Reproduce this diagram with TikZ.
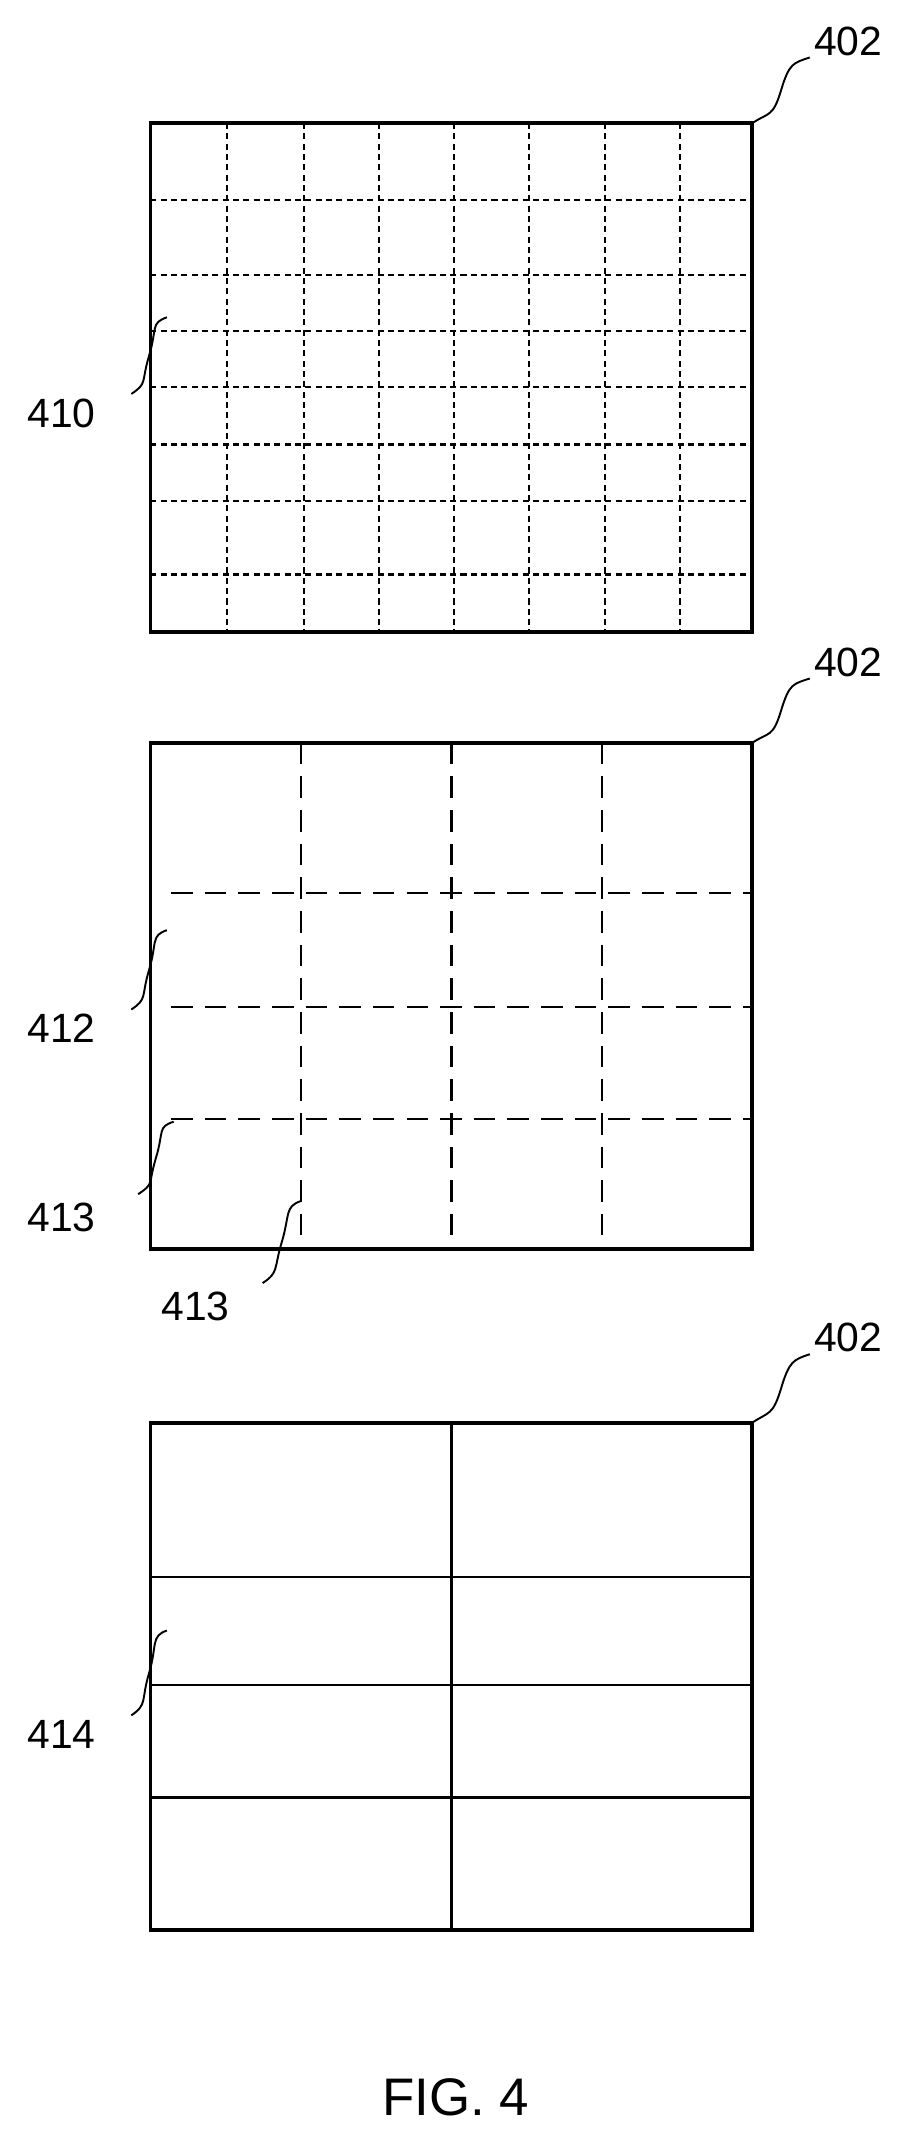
\documentclass[tikz,border=0pt]{standalone}
\usepackage{fontspec}
\setmainfont{Liberation Sans}
\usetikzlibrary{positioning}
\tikzstyle{frame}=[line width=1.6pt]
\tikzstyle{label}=[font=\fontsize{17}{20}\selectfont,inner sep=1pt]
\tikzstyle{leader}=[line width=0.8pt]
\newcommand{\newLeader}[2]{\draw[leader] (#1) .. controls +(12,-8) and +(-6,20) .. ($(#1)!0.5!(#2)$) .. controls +(6,-20) and +(-12,4) .. (#2);}
\usetikzlibrary{calc}
\begin{document}
\begin{tikzpicture}[x=0.02cm,y=-0.02cm]
  \useasboundingbox (0,0) rectangle (667,1563);
  % top grid
  \draw[frame] (110,90) rectangle (550,462);
  \foreach \x in {166,222,277,332,387,442,497}
    \draw[dash pattern=on 2.5pt off 1.8pt,line width=0.9pt] (\x,90) -- (\x,462);
  \foreach \y in {146,201,242,283,325,366,420}
    \draw[dash pattern=on 2.5pt off 1.8pt,line width=0.9pt] (110,\y) -- (550,\y);
  % middle grid
  \draw[frame] (110,543) rectangle (550,913);
  \foreach \x in {220,330,440}
    \draw[dash pattern=on 9pt off 5pt,line width=1pt] (\x,543) -- (\x,913);
  \foreach \y in {653,736,818}
    \draw[dash pattern=on 9pt off 5pt,line width=1pt] (125,\y) -- (550,\y);
  % bottom grid
  \draw[frame] (110,1040) rectangle (550,1411);
  \draw[line width=1pt] (330,1040) -- (330,1411);
  \foreach \y in {1153,1232,1314}
    \draw[line width=1pt] (110,\y) -- (550,\y);
  % labels
  \node[label] (l402a) at (620,30) {402};
  \node[label] (l402b) at (620,484) {402};
  \node[label] (l402c) at (620,978) {402};
  \node[label] (l410) at (45,302) {410};
  \node[label] (l412) at (45,752) {412};
  \node[label] (l413a) at (45,890) {413};
  \node[label] (l413b) at (143,955) {413};
  \node[label] (l414) at (45,1268) {414};
  \node[font=\fontsize{22}{26}\selectfont] (fig) at (333,1533) {FIG. 4};
  \coordinate (t402a) at (550,90);
  \coordinate (t402b) at (550,543);
  \coordinate (t402c) at (550,1040);
  \coordinate (t410) at (122,232);
  \coordinate (t412) at (122,680);
  \coordinate (t413a) at (127,820);
  \coordinate (t413b) at (220,878);
  \coordinate (t414) at (122,1192);
  \newLeader{t402a}{592,42}
  \newLeader{t402b}{592,496}
  \newLeader{t402c}{592,990}
  \newLeader{96,288}{t410}
  \newLeader{96,738}{t412}
  \newLeader{101,873}{t413a}
  \newLeader{192,938}{t413b}
  \newLeader{96,1254}{t414}
\end{tikzpicture}
\end{document}
